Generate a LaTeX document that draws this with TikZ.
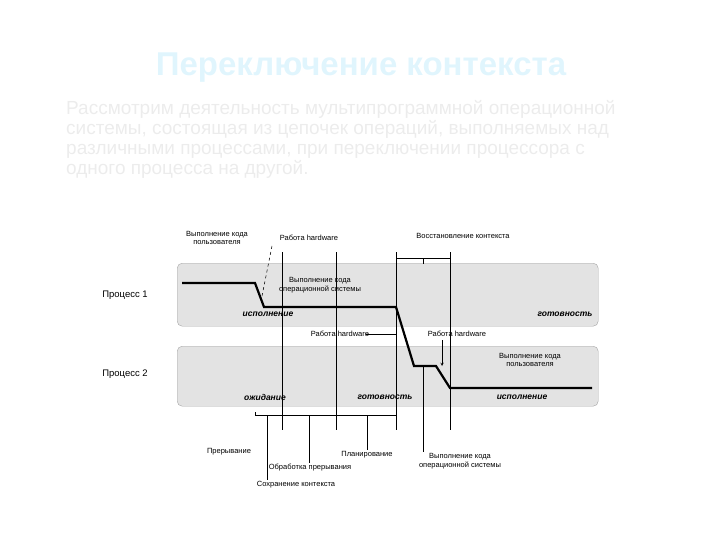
\documentclass[tikz,border=0pt]{standalone}
\usepackage{fontspec}
\setmainfont{Liberation Sans}
\begin{document}
\begin{tikzpicture}[x=1pt,y=-1pt,
  lbl/.style={font=\fontsize{7.5}{8.5}\selectfont,align=center,inner sep=1pt},
  st/.style={font=\fontsize{8.5}{9}\selectfont\bfseries\itshape,inner sep=1pt},
  pbox/.style={draw=gray!70,fill=gray!22,rounded corners=5pt},
  thin/.style={draw=black,line width=0.5pt},
  thickl/.style={draw=black,line width=2.2pt}]
\useasboundingbox (0,0) rectangle (720,540);
\node[text=cyan!12,font=\fontsize{33}{38}\selectfont\bfseries] (title) at (361,68) {Переключение контекста};
\node[text=gray!15,anchor=north west,align=left,font=\fontsize{19}{20}\selectfont,inner sep=0pt] (para) at (66,100)
 {Рассмотрим деятельность мультипрограммной операционной\\системы, состоящая из цепочек операций, выполняемых над\\различными процессами, при переключении процессора с\\одного процесса на другой.};
\node[pbox,minimum width=421pt,minimum height=63pt,anchor=north west] (b1) at (177,263) {};
\node[pbox,minimum width=421pt,minimum height=60pt,anchor=north west] (b2) at (177,346) {};
\node[font=\fontsize{9.5}{10}\selectfont] (p1) at (125,295) {Процесс 1};
\node[font=\fontsize{9.5}{10}\selectfont] (p2) at (125,374) {Процесс 2};
% vertical lines
\coordinate (v1t) at (282,252); \coordinate (v1b) at (282,430);
\coordinate (v2t) at (336,252); \coordinate (v2b) at (336,430);
\coordinate (v3t) at (396,252); \coordinate (v3b) at (396,430);
\coordinate (v4t) at (450,252); \coordinate (v4b) at (450,430);
\draw[thin] (v1t)--(v1b); \draw[thin] (v2t)--(v2b); \draw[thin] (v3t)--(v3b); \draw[thin] (v4t)--(v4b);
% thick trajectory
\coordinate (a0) at (182,283); \coordinate (a1) at (255,283); \coordinate (a2) at (264,307);
\coordinate (a3) at (396,307); \coordinate (a4) at (414,366); \coordinate (a5) at (436,366);
\coordinate (a6) at (450,388); \coordinate (a7) at (592,388);
\draw[thickl] (a0)--(a1)--(a2)--(a3)--(a4)--(a5)--(a6)--(a7);
% top labels
\node[lbl] (l1) at (217,238) {Выполнение кода\\пользователя};
\node[lbl] (l2) at (309,238) {Работа hardware};
\node[lbl] (l3) at (463,236) {Восстановление контекста};
\coordinate (d1) at (272,246); \coordinate (d2) at (262,296);
\draw[thin,dashed] (d1)--(d2);
\coordinate (r1) at (396,258); \coordinate (r2) at (450,258); \coordinate (r3) at (423,258); \coordinate (r4) at (423,264);
\draw[thin] (r1)--(r2); \draw[thin] (r3)--(r4);
\node[lbl] (l4) at (320,285) {Выполнение кода\\операционной системы};
\node[st] (s1) at (268,314) {исполнение};
\node[st] (s2) at (565,314) {готовность};
\node[lbl] (l5) at (340,334) {Работа hardware};
\node[lbl] (l6) at (457,334) {Работа hardware};
\coordinate (h1) at (366,334); \draw[thin] (h1)--(396,334);
\coordinate (h2) at (442,340); \coordinate (h3) at (442,366); \draw[thin,->,>=stealth] (h2)--(h3);
\node[lbl] (l7) at (530,360) {Выполнение кода\\пользователя};
\node[st] (s3) at (265,397) {ожидание};
\node[st] (s4) at (385,397) {готовность};
\node[st] (s5) at (522,397) {исполнение};
% bottom brackets
\coordinate (q1) at (255,415); \coordinate (q2) at (282,415); \coordinate (q3) at (336,415); \coordinate (q4) at (396,415);
\draw[thin] (q1)--(q2); \draw[thin] (q2)--(q3); \draw[thin] (q3)--(q4);
\coordinate (q1a) at (255,412); \draw[thin] (q1)--(q1a);
\node[lbl] (b_a) at (229,452) {Прерывание};
\node[lbl] (b_b) at (296,485) {Сохранение контекста};
\node[lbl] (b_c) at (310,468) {Обработка прерывания};
\node[lbl] (b_d) at (367,455) {Планирование};
\node[lbl] (b_e) at (460,461) {Выполнение кода\\операционной системы};
\draw[thin] (267,415)--(b_b.north -| 267,0);
\draw[thin] (309,415)--(b_c.north -| 309,0);
\draw[thin] (367,415)--(b_d.north);
\draw[thin] (423,366)--(b_e.north -| 423,0);
\end{tikzpicture}
\end{document}
